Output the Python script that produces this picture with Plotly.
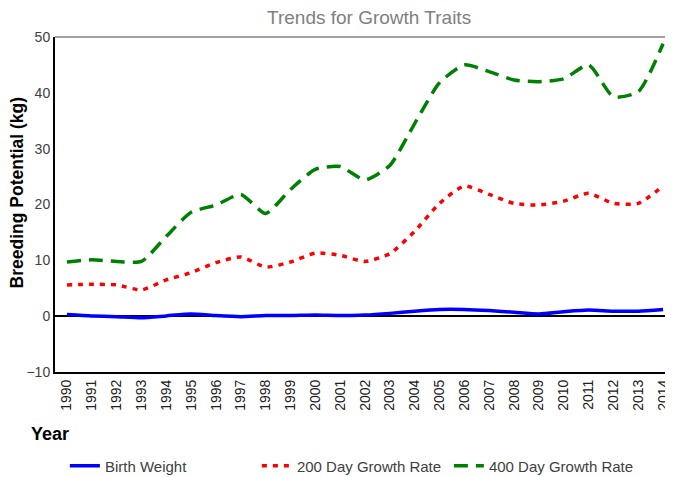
import plotly.graph_objects as go

years = list(range(1990, 2015))
birth_weight = [0.3, 0.05, -0.1, -0.3, 0.05, 0.4, 0.1, -0.1, 0.1, 0.1, 0.2, 0.1, 0.2, 0.5, 0.9, 1.2,
                1.2, 1.0, 0.7, 0.4, 0.8, 1.1, 0.9, 0.9, 1.2]
growth_200 = [5.6, 5.7, 5.6, 4.7, 6.5, 7.8, 9.6, 10.6, 8.8, 9.7, 11.3, 10.9, 9.8, 11.2, 15.2, 20.2,
              23.3, 21.8, 20.2, 19.9, 20.6, 22.0, 20.2, 20.2, 23.3]
growth_400 = [9.7, 10.1, 9.8, 9.8, 14.3, 18.6, 19.9, 21.8, 18.4, 22.7, 26.3, 26.8, 24.4, 27.0, 34.5, 41.8,
              45.0, 43.8, 42.3, 42.0, 42.5, 45.0, 39.3, 40.2, 48.8]
y_ticks = [-10, 0, 10, 20, 30, 40, 50]

font = "Liberation Sans, Arial, sans-serif"

fig = go.Figure()
fig.add_trace(go.Scatter(x=years, y=birth_weight, mode="lines", name="Birth Weight",
                         line=dict(color="#0000ff", width=3.5, shape="spline", smoothing=0.6)))
fig.add_trace(go.Scatter(x=years, y=growth_200, mode="lines", name="200 Day Growth Rate",
                         line=dict(color="#ff0000", width=3.5, dash="5px,6px", shape="spline", smoothing=0.6)))
fig.add_trace(go.Scatter(x=years, y=growth_400, mode="lines", name="400 Day Growth Rate",
                         line=dict(color="#008000", width=3.5, dash="14px,8px", shape="spline", smoothing=0.6)))

# the page body adds an 8px margin, so the figure is 8px smaller on each axis
fig.update_layout(
    width=665, height=469,
    margin=dict(l=47, r=0, t=29, b=105),
    paper_bgcolor="white", plot_bgcolor="white",
    font=dict(family=font, size=14, color="#404040"),
    title=dict(text="Trends for Growth Traits", x=0.543, xanchor="center", y=0.981, yanchor="middle",
               font=dict(family=font, size=19, color="#808080")),
    showlegend=True,
    legend=dict(orientation="h", x=0.016, xref="paper", y=0.0235, yref="container",
                xanchor="left", yanchor="middle",
                font=dict(family=font, size=15, color="#404040"),
                entrywidth=147, entrywidthmode="pixels", itemwidth=30, tracegroupgap=0),
    xaxis=dict(range=[1989.52, 2014.4], tickmode="array", tickvals=years,
               ticktext=[str(y) for y in years], tickangle=-90, ticklabeloverflow="allow",
               showgrid=False, zeroline=False, showline=True, linecolor="black", linewidth=2,
               ticks="", tickfont=dict(family=font, size=14, color="#202020")),
    yaxis=dict(range=[-10, 50], tickvals=y_ticks, showgrid=False,
               zeroline=True, zerolinecolor="black", zerolinewidth=1.5,
               showline=True, linecolor="black", linewidth=2, ticks="",
               tickfont=dict(family=font, size=14, color="#404040")),
    shapes=[dict(type="line", xref="paper", yref="paper", x0=0, x1=1, y0=1, y1=1,
                 line=dict(color="#808080", width=1.5))],
    annotations=[
        dict(text="<b>Year</b>", xref="paper", yref="paper", x=-0.042, y=-0.185,
             xanchor="left", yanchor="middle", showarrow=False,
             font=dict(family=font, size=18, color="black")),
        dict(text="<b>Breeding Potential (kg)</b>", xref="paper", yref="paper", x=-0.0615, y=0.536,
             xanchor="center", yanchor="middle", textangle=-90, showarrow=False,
             font=dict(family=font, size=17.5, color="black")),
    ],
)

fig.write_html("out.html")
